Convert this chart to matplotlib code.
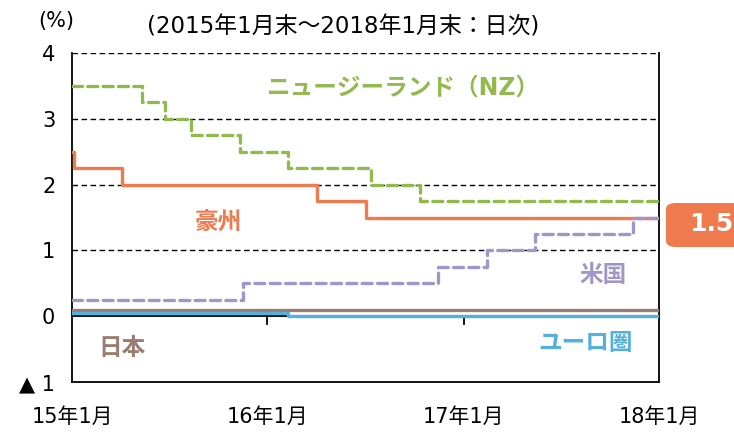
import matplotlib.pyplot as plt
import matplotlib.dates as mdates
from matplotlib.patches import FancyBboxPatch
from datetime import date

plt.rcParams['font.family'] = ['DejaVu Sans', 'Noto Sans CJK JP']

start = date(2015, 1, 31)
end = date(2018, 1, 31)

# policy rate change dates and levels (%)
nz_dates = [start, date(2015, 6, 11), date(2015, 7, 23), date(2015, 9, 10),
            date(2015, 12, 10), date(2016, 3, 10), date(2016, 8, 11), date(2016, 11, 10), end]
nz_rate = [3.5, 3.25, 3.0, 2.75, 2.5, 2.25, 2.0, 1.75, 1.75]

au_dates = [start, date(2015, 2, 3), date(2015, 5, 5), date(2016, 5, 3), date(2016, 8, 2), end]
au_rate = [2.5, 2.25, 2.0, 1.75, 1.5, 1.5]

us_dates = [start, date(2015, 12, 16), date(2016, 12, 14), date(2017, 3, 15),
            date(2017, 6, 14), date(2017, 12, 13), end]
us_rate = [0.25, 0.5, 0.75, 1.0, 1.25, 1.5, 1.5]

jp_dates = [start, end]
jp_rate = [0.1, 0.1]

eu_dates = [start, date(2016, 3, 10), end]
eu_rate = [0.05, 0.0, 0.0]

tick_dates = [date(2015, 1, 31), date(2016, 1, 31), date(2017, 1, 31), date(2018, 1, 31)]
tick_labels = ['15年1月', '16年1月', '17年1月', '18年1月']
y_ticks = [-1, 0, 1, 2, 3, 4]
y_labels = ['▲ 1', '0', '1', '2', '3', '4']

c_nz = '#92B94E'
c_au = '#EE7A4E'
c_us = '#A096C9'
c_jp = '#9A7D70'
c_eu = '#52B1DE'

fig = plt.figure(figsize=(7.34, 4.33), dpi=100)
ax = fig.add_axes([72 / 734, 1 - 382 / 433, 587 / 734, 329 / 433])

# grid lines
for g in [1, 2, 3, 4]:
    ax.axhline(g, color='black', lw=1.0, ls=(0, (4, 2.5)), zorder=1)
ax.axhline(0, color='black', lw=1.3, zorder=1)

ax.plot(nz_dates, nz_rate, drawstyle='steps-post', color=c_nz, lw=2.4,
        ls=(0, (3, 1.6)), dash_capstyle='round', zorder=3)
ax.plot(au_dates, au_rate, drawstyle='steps-post', color=c_au, lw=2.4, zorder=3)
ax.plot(us_dates, us_rate, drawstyle='steps-post', color=c_us, lw=2.4,
        ls=(0, (3, 1.6)), dash_capstyle='round', zorder=3)
ax.plot(jp_dates, jp_rate, drawstyle='steps-post', color=c_jp, lw=2.4, zorder=3)
ax.plot(eu_dates, eu_rate, drawstyle='steps-post', color=c_eu, lw=2.4, zorder=3)

# tick marks on the zero line
for d in tick_dates[1:3]:
    ax.plot([d, d], [0, -0.12], color='black', lw=1.3, zorder=2)

ax.set_xlim(mdates.date2num(start), mdates.date2num(end))
ax.set_ylim(-1, 4)
ax.set_xticks([mdates.date2num(d) for d in tick_dates])
ax.set_xticklabels(tick_labels, fontsize=15)
ax.set_yticks(y_ticks)
ax.set_yticklabels(y_labels, fontsize=15)
ax.tick_params(axis='both', length=0)
ax.tick_params(axis='x', pad=18)
ax.tick_params(axis='y', pad=12)
ax.spines['top'].set_visible(False)
for s in ['left', 'right', 'bottom']:
    ax.spines[s].set_linewidth(1.3)

# series labels
lab = dict(transform=ax.transAxes, fontsize=17, fontweight='bold', ha='center', va='center')
ax.text(0.564, 0.895, 'ニュージーランド（NZ）', color=c_nz, **lab)
ax.text(0.249, 0.486, '豪州', color=c_au, **lab)
ax.text(0.905, 0.325, '米国', color=c_us, **lab)
ax.text(0.085, 0.103, '日本', color=c_jp, **lab)
ax.text(0.874, 0.12, 'ユーロ圏', color=c_eu, **lab)

# header texts
fig.text(38 / 734, 1 - 21 / 433, '(%)', fontsize=15, ha='left', va='center')
fig.text(147 / 734, 1 - 27 / 433, '(2015年1月末～2018年1月末：日次)', fontsize=16.5,
         ha='left', va='center')

# end value box
box = FancyBboxPatch((666 / 734, 1 - 247 / 433), 90 / 734, 44 / 433,
                     boxstyle='round,pad=0,rounding_size=0.014', transform=fig.transFigure,
                     facecolor=c_au, edgecolor='none', clip_on=False)
fig.patches.append(box)
fig.text(689 / 734, 1 - 224 / 433, '1.5', color='white', fontsize=18,
         fontweight='bold', ha='left', va='center')

fig.savefig('out.png', dpi=100)
